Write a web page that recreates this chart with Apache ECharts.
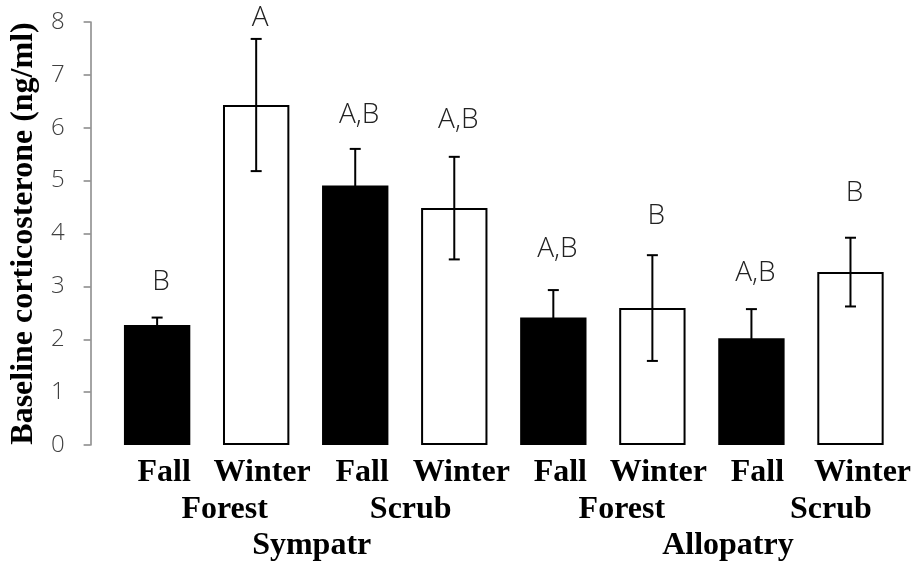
<!DOCTYPE html>
<html>
<head>
<meta charset="utf-8">
<script src="https://cdn.jsdelivr.net/npm/echarts@6/dist/echarts.min.js"></script>
<style>
html,body{margin:0;padding:0;background:#fff;}
#chart{width:917px;height:569px;}
</style>
</head>
<body>
<div id="chart"></div>
<script>
// ---- data ----
const categories = ['Fall', 'Winter', 'Fall', 'Winter', 'Fall', 'Winter', 'Fall', 'Winter'];
const habitats = ['Forest', 'Scrub', 'Forest', 'Scrub'];
const regions = ['Sympatr', 'Allopatry'];
const means = [2.27, 6.43, 4.91, 4.48, 2.41, 2.59, 2.02, 3.27];
const errors = [0.14, 1.25, 0.69, 0.97, 0.52, 1.00, 0.55, 0.65];
const letters = ['B', 'A', 'A,B', 'A,B', 'A,B', 'B', 'A,B', 'B'];
const letterLevels = [3.08, 8.08, 6.24, 6.15, 3.70, 4.33, 3.26, 4.76];
const yTicks = [0, 1, 2, 3, 4, 5, 6, 7, 8];

// ---- layout / style ----
const catShift = [7, 6, 7, 7, 7, 6, 6, 12];
const habShift = [18, 6, 19, 30];
const regShift = [6, 26];
const serif = '"Liberation Serif", "Times New Roman", serif';
const sans = '"Open Sans", "Noto Sans", sans-serif';

function shifted(labels, shifts) {
  return labels.map((v, i) => ({
    value: v,
    textStyle: { padding: [0, 0, 0, 2 * shifts[i]] }
  }));
}

const xLabelBase = {
  fontFamily: serif, fontWeight: 'bold', fontSize: 32, color: '#000', margin: 12
};

const chart = echarts.init(document.getElementById('chart'), null, { renderer: 'canvas' });
chart.setOption({
  animation: false,
  backgroundColor: '#fff',
  grid: { left: 100, right: 17, top: 22, bottom: 124 },
  xAxis: [
    {
      type: 'category', data: shifted(categories, catShift), position: 'bottom',
      axisLine: { show: false }, axisTick: { show: false },
      axisLabel: Object.assign({ interval: 0 }, xLabelBase)
    },
    {
      type: 'category', data: shifted(habitats, habShift), position: 'bottom', offset: 37,
      axisLine: { show: false }, axisTick: { show: false },
      axisLabel: Object.assign({ interval: 0 }, xLabelBase)
    },
    {
      type: 'category', data: shifted(regions, regShift), position: 'bottom', offset: 73,
      axisLine: { show: false }, axisTick: { show: false },
      axisLabel: Object.assign({ interval: 0 }, xLabelBase)
    }
  ],
  yAxis: {
    type: 'value', min: yTicks[0], max: yTicks[yTicks.length - 1], interval: 1,
    offset: 17,
    name: 'Baseline corticosterone (ng/ml)',
    nameLocation: 'middle', nameGap: 50,
    nameTextStyle: { fontFamily: serif, fontWeight: 'bold', fontSize: 32, color: '#000' },
    axisLine: { show: true, lineStyle: { color: '#868686', width: 1.5 } },
    axisTick: { show: true, inside: false, length: 7, lineStyle: { color: '#868686', width: 1.5 } },
    splitLine: { show: false },
    axisLabel: { fontFamily: sans, fontWeight: 300, fontSize: 24, color: '#404040', margin: 26 }
  },
  series: [
    {
      type: 'bar', xAxisIndex: 0, barWidth: '67%',
      data: means.map((v, i) => ({
        value: v,
        itemStyle: i % 2 === 0
          ? { color: '#000', borderWidth: 0 }
          : { color: '#fff', borderColor: '#000', borderWidth: 2 }
      }))
    },
    {
      type: 'custom', xAxisIndex: 0, clip: false, z: 5,
      data: means.map((m, i) => [i, m - errors[i], m + errors[i]]),
      renderItem: function (params, api) {
        const x = api.value(0);
        const lo = api.coord([x, api.value(1)]);
        const hi = api.coord([x, api.value(2)]);
        const cap = 5.5;
        const style = { stroke: '#000', lineWidth: 2 };
        return {
          type: 'group',
          children: [
            { type: 'line', shape: { x1: hi[0], y1: hi[1], x2: lo[0], y2: lo[1] }, style: style },
            { type: 'line', shape: { x1: hi[0] - cap, y1: hi[1], x2: hi[0] + cap, y2: hi[1] }, style: style },
            { type: 'line', shape: { x1: lo[0] - cap, y1: lo[1], x2: lo[0] + cap, y2: lo[1] }, style: style }
          ]
        };
      }
    },
    {
      type: 'custom', xAxisIndex: 0, clip: false, z: 6,
      data: letterLevels.map((v, i) => [i, v]),
      renderItem: function (params, api) {
        const p = api.coord([api.value(0), api.value(1)]);
        return {
          type: 'text',
          x: p[0] + 4, y: p[1],
          style: {
            text: letters[params.dataIndex],
            fontFamily: sans, fontWeight: 300, fontSize: 28, fill: '#222',
            align: 'center', verticalAlign: 'middle'
          }
        };
      }
    }
  ]
});
</script>
</body>
</html>
